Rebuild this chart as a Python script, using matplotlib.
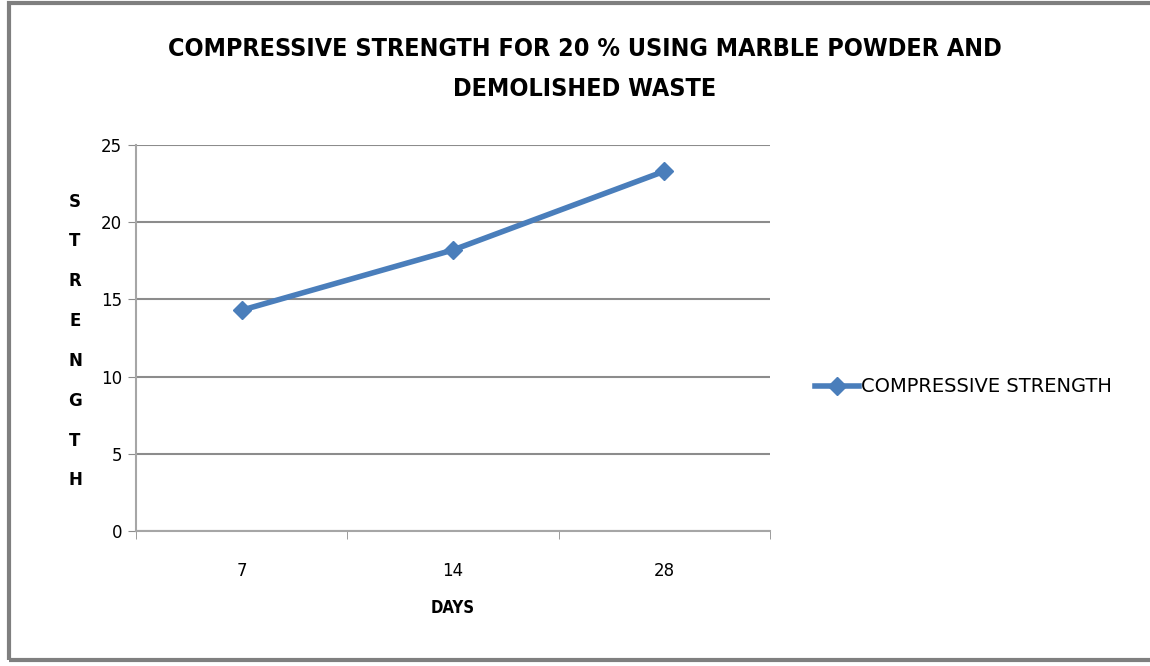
import matplotlib.pyplot as plt
from matplotlib.patches import Rectangle
from matplotlib.lines import Line2D

days = ['7', '14', '28']
strength = [14.3, 18.2, 23.3]
y_ticks = [0, 5, 10, 15, 20, 25]

plt.rcParams['font.family'] = ['DejaVu Sans']

blue = '#4a7ebb'
grid_col = '#8c8c8c'

fig = plt.figure(figsize=(11.5, 6.66), dpi=100)
ax = fig.add_axes([136/1150, 1-531/666, (770-136)/1150, (531-145)/666])

x = range(len(days))
ax.plot(x, strength, color=blue, lw=4, marker='D', ms=9, label='COMPRESSIVE STRENGTH')

ax.set_xlim(-0.5, len(days)-0.5)
ax.set_ylim(0, 25)
ax.set_yticks(y_ticks)
ax.set_yticklabels([str(v) for v in y_ticks], fontsize=12)
ax.set_xticks(list(x))
ax.set_xticklabels(days, fontsize=12)
ax.tick_params(axis='x', length=0, pad=22)
# tick marks sit between the categories
ax.set_xticks([-0.5, 0.5, 1.5, 2.5], minor=True)
ax.tick_params(axis='x', which='minor', length=6, color=grid_col, direction='out')
ax.tick_params(axis='y', length=6, color=grid_col, direction='out', pad=4)
ax.grid(axis='y', color=grid_col, lw=1.5)
ax.set_axisbelow(True)
for s in ['top', 'right']:
    ax.spines[s].set_visible(False)
for s in ['left', 'bottom']:
    ax.spines[s].set_color('#a6a6a6')
    ax.spines[s].set_linewidth(1.5)

ax.set_xlabel('DAYS', fontsize=12, fontweight='bold', labelpad=14, stretch='condensed')

fig.text(75/1150, 1-341/666, '\n'.join('STRENGTH'), fontsize=12, fontweight='bold',
         ha='center', va='center', linespacing=2.56)

fig.text(585/1150, 1-69/666, 'COMPRESSIVE STRENGTH FOR 20 % USING MARBLE POWDER AND\nDEMOLISHED WASTE',
         fontsize=18, fontweight='bold', ha='center', va='center', linespacing=1.8,
         stretch='condensed')

handle = Line2D([], [], color=blue, lw=4, marker='D', ms=9)
fig.legend([handle], ['COMPRESSIVE STRENGTH'], loc='center left',
           bbox_to_anchor=(797/1150, 1-387/666), frameon=False, fontsize=14,
           handlelength=2.3, handletextpad=0.1)

fig.patches.append(Rectangle((9/1150, 1-660/666), 1.2, 657/666, transform=fig.transFigure,
                             fill=False, ec='#7f7f7f', lw=3))

fig.savefig('out.png', dpi=100)
